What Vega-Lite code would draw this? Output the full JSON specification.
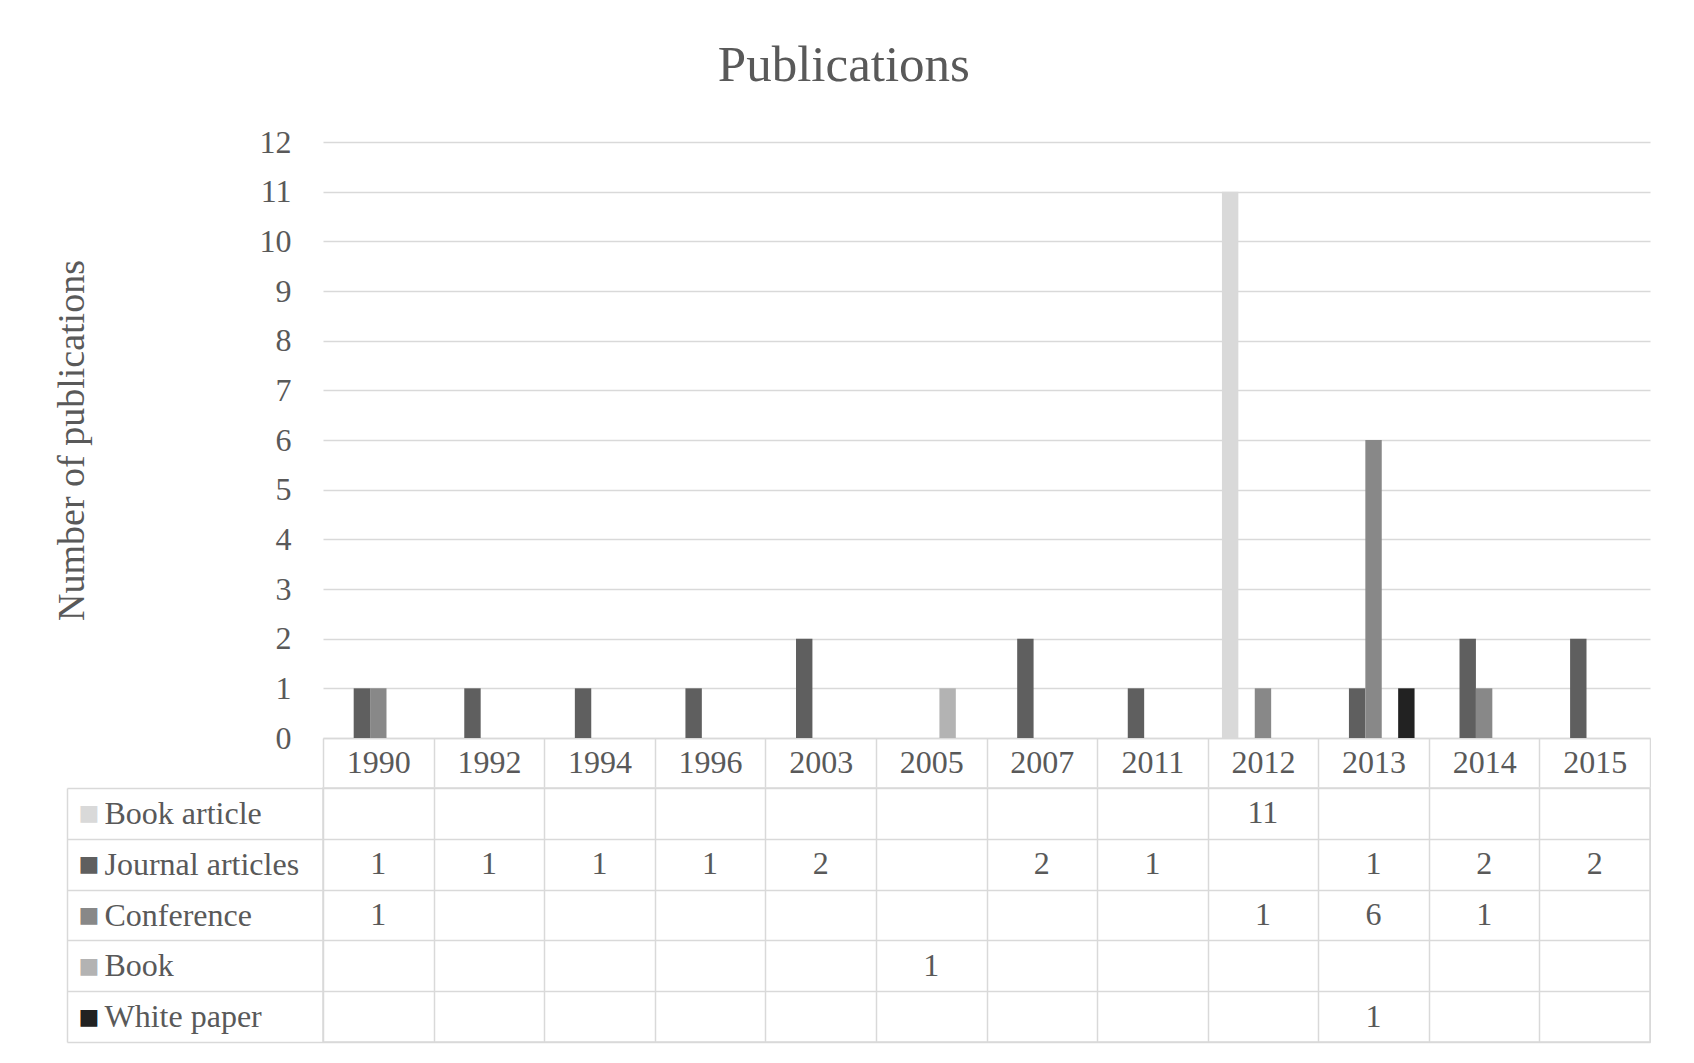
{
  "$schema": "https://vega.github.io/schema/vega-lite/v6.json",
  "padding": {"left": 53, "top": 40, "right": 0, "bottom": 0},
  "background": "#ffffff",
  "spacing": -17,
  "title": {"text": "Publications", "font": "Liberation Serif", "fontSize": 51, "fontWeight": "normal", "color": "#595959", "anchor": "middle", "offset": 34, "dx": -8},
  "config": {
    "view": {"stroke": "#d9d9d9", "strokeWidth": 1.5}
  },
  "data": {"values": [
    {"year": "1990", "type": "Journal articles", "count": 1},
    {"year": "1990", "type": "Conference", "count": 1},
    {"year": "1992", "type": "Journal articles", "count": 1},
    {"year": "1994", "type": "Journal articles", "count": 1},
    {"year": "1996", "type": "Journal articles", "count": 1},
    {"year": "2003", "type": "Journal articles", "count": 2},
    {"year": "2005", "type": "Book", "count": 1},
    {"year": "2007", "type": "Journal articles", "count": 2},
    {"year": "2011", "type": "Journal articles", "count": 1},
    {"year": "2012", "type": "Book article", "count": 11},
    {"year": "2012", "type": "Conference", "count": 1},
    {"year": "2013", "type": "Journal articles", "count": 1},
    {"year": "2013", "type": "Conference", "count": 6},
    {"year": "2013", "type": "White paper", "count": 1},
    {"year": "2014", "type": "Journal articles", "count": 2},
    {"year": "2014", "type": "Conference", "count": 1},
    {"year": "2015", "type": "Journal articles", "count": 2}
  ]},
  "vconcat": [
    {
      "width": 1327,
      "height": 596,
      "view": {"stroke": null},
      "mark": {"type": "bar"},
      "encoding": {
        "x": {
          "field": "year", "type": "ordinal",
          "scale": {"domain": ["1990", "1992", "1994", "1996", "2003", "2005", "2007", "2011", "2012", "2013", "2014", "2015"], "paddingInner": 0, "paddingOuter": 0},
          "axis": {"title": null, "orient": "bottom", "domain": true, "domainColor": "#d9d9d9", "domainWidth": 1.5, "ticks": true, "tickBand": "extent", "tickSize": 49, "tickColor": "#d9d9d9", "tickWidth": 1.5, "labelAngle": 0, "labelFont": "Liberation Serif", "labelFontSize": 32, "labelColor": "#595959", "labelBaseline": "middle", "labelPadding": -25}
        },
        "xOffset": {
          "field": "type", "type": "nominal",
          "scale": {"domain": ["Book article", "Journal articles", "Conference", "Book", "White paper"], "paddingInner": 0, "paddingOuter": 0.87}
        },
        "y": {
          "field": "count", "type": "quantitative",
          "scale": {"domain": [0, 12], "nice": false},
          "axis": {"title": "Number of publications", "titleFont": "Liberation Serif", "titleFontSize": 38, "titleFontWeight": "normal", "titleColor": "#595959", "titlePadding": 168, "values": [0, 1, 2, 3, 4, 5, 6, 7, 8, 9, 10, 11, 12], "domain": false, "ticks": false, "grid": true, "gridColor": "#d9d9d9", "gridWidth": 1.5, "labelFont": "Liberation Serif", "labelFontSize": 32, "labelColor": "#595959", "labelPadding": 32}
        },
        "color": {
          "field": "type", "type": "nominal",
          "scale": {"domain": ["Book article", "Journal articles", "Conference", "Book", "White paper"], "range": ["#d9d9d9", "#5f5f5f", "#888888", "#b3b3b3", "#222222"]},
          "legend": null
        }
      }
    },
    {
      "width": 1327,
      "height": 254,
      "layer": [
        {
          "mark": {"type": "text", "font": "Liberation Serif", "fontSize": 32, "color": "#595959", "baseline": "middle", "align": "center"},
          "encoding": {
            "x": {
              "field": "year", "type": "ordinal",
              "scale": {"domain": ["1990", "1992", "1994", "1996", "2003", "2005", "2007", "2011", "2012", "2013", "2014", "2015"], "paddingInner": 0, "paddingOuter": 0},
              "axis": {"title": null, "orient": "bottom", "domain": false, "ticks": false, "labels": false, "grid": true, "tickBand": "extent", "gridColor": "#d9d9d9", "gridWidth": 1.5}
            },
            "y": {
              "field": "type", "type": "nominal",
              "scale": {"domain": ["Book article", "Journal articles", "Conference", "Book", "White paper"], "paddingInner": 0, "paddingOuter": 0},
              "axis": {"title": null, "orient": "left", "domain": false, "ticks": true, "tickBand": "extent", "tickSize": 256, "tickColor": "#d9d9d9", "tickWidth": 1.5, "grid": true, "gridColor": "#d9d9d9", "gridWidth": 1.5, "labelAlign": "left", "labelBaseline": "middle", "labelPadding": -37, "labelLimit": 400, "labelFont": "Liberation Serif", "labelFontSize": 32, "labelColor": "#595959"}
            },
            "text": {"field": "count", "type": "quantitative"}
          }
        },
        {
          "mark": {"type": "text", "opacity": 0},
          "encoding": {
            "y": {
              "field": "type", "type": "nominal",
              "scale": {"domain": ["Book article", "Journal articles", "Conference", "Book", "White paper"], "paddingInner": 0, "paddingOuter": 0},
              "axis": {"title": null, "orient": "left", "offset": 256, "domain": true, "domainColor": "#d9d9d9", "domainWidth": 1.5, "ticks": false, "grid": false, "labelExpr": "'■'", "labelAlign": "left", "labelBaseline": "middle", "labelPadding": -11, "labelFont": "DejaVu Sans", "labelFontSize": 22,
                "labelColor": {"condition": [
                  {"test": "datum.value === 'Book article'", "value": "#d9d9d9"},
                  {"test": "datum.value === 'Journal articles'", "value": "#5f5f5f"},
                  {"test": "datum.value === 'Conference'", "value": "#888888"},
                  {"test": "datum.value === 'Book'", "value": "#b3b3b3"}
                ], "value": "#222222"}}
            },
            "text": {"field": "count", "type": "quantitative"}
          }
        }
      ],
      "resolve": {"axis": {"y": "independent"}}
    }
  ]
}
